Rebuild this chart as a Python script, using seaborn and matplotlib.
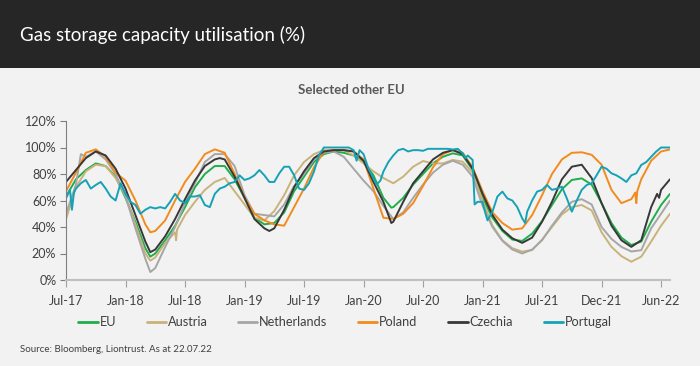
import numpy as np
import pandas as pd
import matplotlib
matplotlib.use("Agg")
import matplotlib.pyplot as plt
import seaborn as sns
from matplotlib.patches import Rectangle
from matplotlib.lines import Line2D

# x positions are months since mid-Jul 2017
tick_pos = [0, 6, 12, 18, 24, 30, 36, 42, 48, 54, 60]
tick_labels = ["Jul-17", "Jan-18", "Jul-18", "Jan-19", "Jul-19", "Jan-20",
               "Jul-20", "Jan-21", "Jul-21", "Dec-21", "Jun-22"]

series_names = ["EU", "Austria", "Netherlands", "Poland", "Czechia", "Portugal"]

eu_m = [0, 1, 2, 3, 4, 5, 6, 7, 8, 8.5, 9, 10, 11, 12, 13, 14, 15, 16, 17, 18, 19, 20,
        21, 22, 23, 24, 25, 26, 27, 28, 29, 30, 31, 32, 32.8, 33, 34, 35, 36, 37, 38, 39,
        40, 41, 42, 43, 44, 45, 46, 47, 48, 49, 50, 51, 52, 53, 54, 55, 56, 57, 58, 59, 60, 60.9]
eu_v = [63, 76, 83, 88, 86, 78, 62, 44, 24, 17.6, 20, 30, 41, 55, 70, 80, 86, 86, 76, 62, 47, 42,
        43, 51, 67, 78, 89, 95, 97, 96, 94, 89, 79, 62, 54.6, 55, 62, 72, 80, 88, 93, 95.6,
        94, 83, 62, 47, 37, 30.5, 29.5, 35, 44.5, 56.6, 68.5, 75.5, 76.7, 72, 58, 43, 32, 26.4, 29, 44, 56.6, 65]

at_m = [0, 1, 2, 3, 4, 5, 6, 7, 8, 8.5, 9, 10, 11, 11.1, 11.2, 12, 13, 14, 15, 16, 17, 18, 19, 20,
        21, 22, 23, 24, 25, 26, 27, 28, 29, 30, 31, 32, 33, 34, 35, 36, 37, 38, 39, 40,
        41, 42, 43, 44, 45, 46, 47, 48, 49, 50, 51, 52, 53, 54, 55, 56, 57, 58, 59, 60, 60.9]
at_v = [46, 70, 82, 87, 86, 77, 64, 42, 20, 14.6, 17, 28, 36, 30, 38, 49, 59, 68, 74, 77, 67, 57, 47, 45,
        52, 64, 79, 89, 95, 98, 98, 98, 94, 88, 82, 77, 73, 78, 85.5, 89.8, 88, 88, 90.6, 89.3,
        81, 60, 41, 30, 24, 21.4, 22.6, 30.5, 40, 49.5, 55, 56.6, 52.5, 36, 25, 18, 13.8, 17.6, 29, 41, 50]

nl_m = [0, 1, 1.5, 2, 3, 4, 5, 6, 7, 8, 8.5, 9, 10, 11, 12, 13, 14, 15, 16, 17, 18, 19, 20,
        21, 22, 23, 24, 25, 26, 27, 28, 29, 30, 31, 32, 33, 34, 35, 36, 37, 38, 39, 40,
        41, 42, 43, 44, 45, 46, 47, 48, 49, 50, 51, 52, 53, 54, 55, 56, 57, 58, 59, 60, 60.9]
nl_v = [50, 72, 95, 93, 97, 91, 80, 63, 39, 16, 6, 9, 25, 40, 58, 73, 89, 95, 95, 86, 64, 50, 49,
        48, 57, 71, 80, 91, 96, 97, 93, 84, 75, 67, 56, 46, 51, 62, 72, 81, 87, 90, 87,
        78, 56, 40, 29.5, 23, 20, 23, 30, 41, 51, 59, 61, 57, 40, 31, 25, 21.5, 22.5, 39, 50, 60]

pl_m = [0, 1, 2, 3, 4, 5, 6, 7, 8, 8.5, 9, 10, 11, 12, 13, 14, 15, 16, 17, 18, 19, 20,
        21, 22, 23, 24, 25, 26, 27, 28, 29, 30, 31, 32, 33, 34, 35, 36, 37, 38, 39, 40,
        41, 42, 43, 44, 45, 46, 47, 48, 49, 50, 51, 52, 53, 54, 55, 56, 57, 57.4, 57.5, 57.6,
        58, 59, 60, 60.9]
pl_v = [67, 81, 96, 98.6, 93, 81, 75, 60, 42, 36, 37, 45, 60, 74, 84, 95, 98.6, 96, 80, 62, 50, 45,
        42, 41, 55, 69, 85, 97, 98, 98, 97, 91, 69, 47, 46, 50, 58, 71, 85, 95, 98, 96,
        85, 67, 51, 43, 38, 39, 49, 64, 80, 91, 96, 96.4, 94.5, 87, 68, 58, 61, 66, 58, 67,
        76, 90, 97, 98.5]

cz_m = [0, 1, 2, 3, 4, 5, 6, 7, 8, 8.5, 9, 10, 11, 12, 13, 14, 15, 15.5, 16, 17, 18, 19, 20, 20.5,
        21, 22, 23, 24, 25, 26, 27, 28, 29, 30, 31, 32, 32.8, 33, 34, 35, 36, 37, 38, 39, 40,
        41, 42, 43, 44, 45, 46, 47, 48, 49, 50, 51, 52, 53, 54, 55, 56, 57, 58, 59, 59.6, 59.8, 60, 60.9]
cz_v = [74, 83, 92, 97, 94, 84, 69, 49, 29, 21, 23, 33, 46, 61, 75, 86, 91, 92, 91, 78, 62, 46, 39, 37,
        39, 53, 70, 82, 92, 97, 98, 98, 97, 90, 74, 59, 43, 44, 59, 73, 82, 91, 96, 98, 95,
        84, 65, 49, 38, 31.5, 28, 32, 44, 59, 76, 85.5, 87, 77, 58, 41, 30, 25, 30, 55, 65, 62, 68, 76]

pt_m = [0, 0.4, 0.6, 0.8, 1, 1.5, 2, 2.5, 3, 3.5, 4, 4.5, 5, 5.5, 6, 6.5, 7, 7.5, 8, 8.5, 9, 9.5,
        10, 10.5, 11, 11.5, 12, 12.5, 13, 13.5, 14, 14.5, 15, 15.5, 16, 16.5, 17, 17.5, 18, 18.5,
        19, 19.5, 20, 20.5, 21, 21.5, 22, 22.5, 23, 23.5, 24, 24.5, 25, 25.5, 26, 26.5, 27, 27.5,
        28, 28.5, 29, 29.3, 29.6, 30, 30.5, 31, 31.3, 31.7, 32, 32.5, 33, 33.5, 34, 34.5, 35, 35.5,
        36, 36.5, 37, 37.5, 38, 38.5, 39, 39.5, 40, 40.3, 40.5, 41, 41.2, 41.5, 42, 42.3, 42.5, 43,
        43.5, 44, 44.5, 45, 45.5, 46, 46.3, 46.5, 47, 47.5, 48, 48.5, 49, 49.5, 50, 50.5, 51, 51.5,
        52, 52.5, 53, 53.5, 54, 54.5, 55, 55.5, 56, 56.5, 57, 57.5, 58, 58.5, 59, 59.5, 60, 60.5, 60.9]
pt_v = [61.6, 68, 53, 66, 69, 73, 75.5, 69, 71.7, 74, 69, 63, 60, 73, 65, 59, 56.6, 50, 53, 55, 54, 55,
        54, 59, 65, 60, 58, 63, 63, 64, 56.6, 55, 65, 69, 70.4, 73, 74, 79, 75.5, 76.7,
        79, 83, 79, 74, 74, 80.5, 85.5, 85.5, 79, 69, 68, 73, 81.8, 94, 100, 100, 100, 100,
        100, 100, 98, 90, 98, 95, 84, 76.7, 72, 75, 81.8, 89, 94, 98, 99, 97, 98, 98,
        97.5, 99, 99, 99, 99, 99, 98.5, 99, 95.6, 92, 94, 90.6, 57, 59, 59, 50, 45, 51.6,
        63, 66.7, 61.6, 60, 55, 46.5, 43, 51.6, 60, 66.7, 68, 71.7, 68, 69, 70.4, 61.6, 51.6, 60,
        68, 71.7, 73, 79, 85.5, 84, 80.5, 79, 76.7, 74, 79, 80.5, 86.8, 89, 93, 96.9, 100, 100, 100]

colors = {"EU": "#1fae4b", "Austria": "#c9b37b", "Netherlands": "#a6a6a6",
          "Poland": "#f28b1d", "Czechia": "#383838", "Portugal": "#16a2b6"}

frames = []
for name, m, v in [("EU", eu_m, eu_v), ("Austria", at_m, at_v), ("Netherlands", nl_m, nl_v),
                   ("Poland", pl_m, pl_v), ("Czechia", cz_m, cz_v), ("Portugal", pt_m, pt_v)]:
    assert len(m) == len(v), (name, len(m), len(v))
    frames.append(pd.DataFrame({"month": m, "value": v, "series": name}))
df = pd.concat(frames, ignore_index=True)

sns.set_theme(style="white")
plt.rcParams["font.family"] = ["Lato", "DejaVu Sans"]

bg = "#f2f2f2"
fig = plt.figure(figsize=(7, 3.66), dpi=100, facecolor=bg)
ax = fig.add_axes([66 / 700, 1 - 280 / 366, (670 - 66) / 700, (280 - 121) / 366])
ax.set_facecolor(bg)

sns.lineplot(data=df, x="month", y="value", hue="series", hue_order=series_names,
             palette=colors, estimator=None, sort=True, linewidth=1.4, ax=ax, legend=False)

ax.set_xlim(0, 60.9)
ax.set_ylim(0, 120)
ax.set_xticks(tick_pos)
ax.set_xticklabels(tick_labels)
ax.set_yticks([0, 20, 40, 60, 80, 100, 120])
ax.set_yticklabels([f"{v}%" for v in [0, 20, 40, 60, 80, 100, 120]])
ax.set_xlabel("")
ax.set_ylabel("")
for s in ["top", "right"]:
    ax.spines[s].set_visible(False)
ax.spines["left"].set_color("#7f7f7f")
ax.spines["left"].set_linewidth(0.8)
ax.spines["bottom"].set_color("#bfbfbf")
ax.spines["bottom"].set_linewidth(1.5)
ax.tick_params(axis="y", left=True, length=4, width=0.8, color="#7f7f7f",
               labelsize=9, labelcolor="#404040", pad=3)
ax.tick_params(axis="x", bottom=True, length=5, width=0.8, color="#a0a0a0",
               labelsize=9, labelcolor="#404040", pad=6)

# header band
fig.patches.append(Rectangle((0, 1 - 68 / 366), 1, 68 / 366, transform=fig.transFigure,
                             facecolor="#262626", edgecolor="none", zorder=0))
fig.text(20 / 700, 1 - 35 / 366, "Gas storage capacity utilisation (%)", color="white",
         fontsize=13.5, va="center", ha="left")
fig.text(351 / 700, 1 - 90 / 366, "Selected other EU", color="#595959", fontsize=9.5,
         fontweight="bold", ha="center", va="center")

handles = [Line2D([0], [0], color=colors[n], lw=2) for n in series_names]
fig.legend(handles, series_names, loc="center", bbox_to_anchor=(345 / 700, 1 - 322 / 366),
           ncol=6, frameon=False, fontsize=9.2, handlelength=1.5, handletextpad=0.15,
           columnspacing=2.4, labelcolor="#404040")

fig.text(20 / 700, 1 - 349 / 366, "Source: Bloomberg, Liontrust. As at 22.07.22",
         fontsize=7, color="#404040", va="center", ha="left")

fig.savefig("out.png", dpi=100, facecolor=bg)
